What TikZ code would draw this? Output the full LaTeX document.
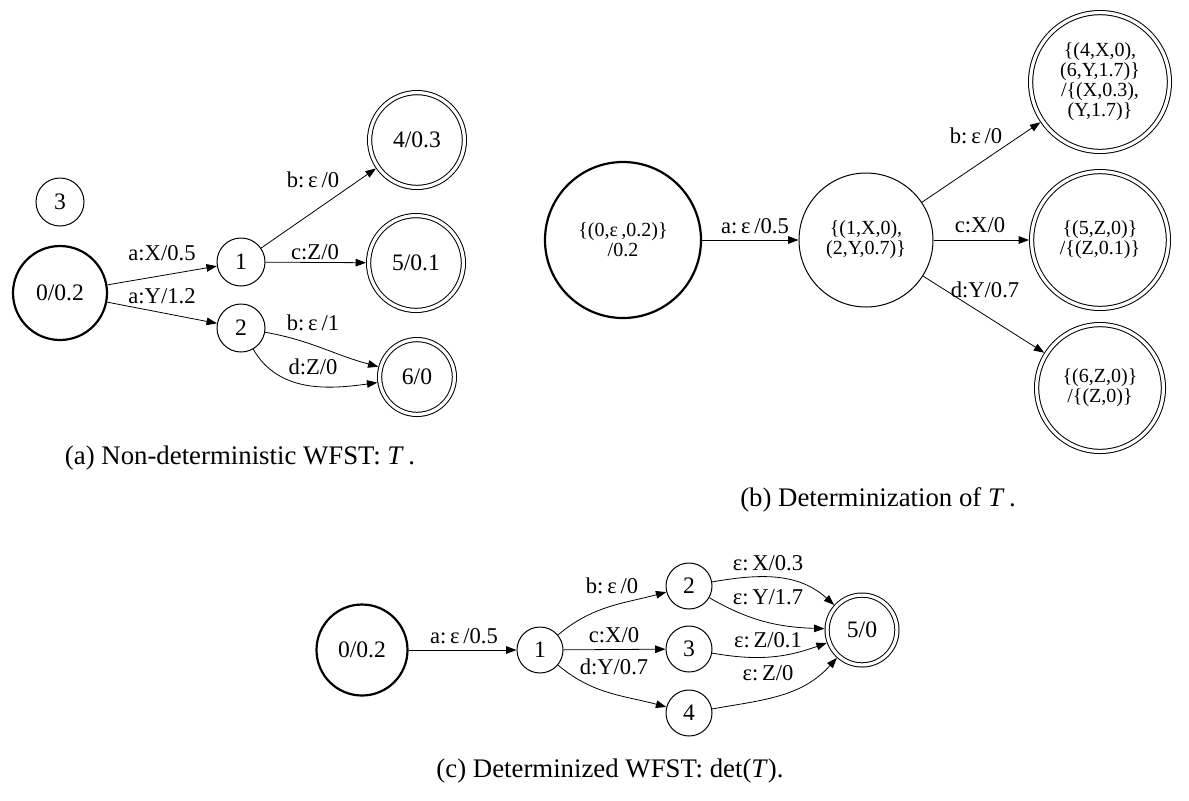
\documentclass[tikz,border=0pt]{standalone}
\usepackage{fontspec}
\setmainfont{Liberation Serif}
\usepackage{tikz}
\usetikzlibrary{arrows.meta}

\begin{document}
\begin{tikzpicture}[x=0.5pt,y=-0.5pt,
    state/.style={circle,draw,line width=0.5pt,inner sep=0pt,font=\fontsize{11.8}{12}\selectfont},
    start/.style={state,line width=1.1pt},
    final/.style={state,double,double distance=1.6pt,outer sep=1.3pt},
    big/.style={align=center,font=\fontsize{10}{10}\selectfont},
    lbl/.style={inner sep=0pt,font=\fontsize{11.3}{12}\selectfont},
    captxt/.style={inner sep=0pt,font=\fontsize{13.4}{15}\selectfont},
    >={Triangle[length=5.2pt,width=3.8pt]}]
    \useasboundingbox (0,0) rectangle (1189,800);
    % (a)
    \node[state,minimum size=24pt] (a3) at (60,202) {3};
    \node[start,minimum size=47pt] (a0) at (60,293) {0/0.2};
    \node[state,minimum size=24pt] (a1) at (241,262) {1};
    \node[state,minimum size=24pt] (a2) at (241,328) {2};
    \node[final,minimum size=47.4pt] (a4) at (417,140) {4/0.3};
    \node[final,minimum size=47.4pt] (a5) at (416,263) {5/0.1};
    \node[final,minimum size=37.4pt] (a6) at (417,377) {6/0};
    \draw[->] (a0) -- (a1);
    \draw[->] (a0) -- (a2);
    \draw[->] (a1) -- (a4);
    \draw[->] (a1) -- (a5);
    \draw[->] (a2) to[out=-10,in=165] (a6);
    \draw[->] (a2) to[out=-60,in=188] (a6);
    \node[lbl] (la01) at (162,253) {a:X/0.5};
    \node[lbl] (la02) at (162,296) {a:Y/1.2};
    \node[lbl] (la14) at (313,180) {b:\,ε\,/0};
    \node[lbl] (la15) at (315,252) {c:Z/0};
    \node[lbl] (la26) at (313,323) {b:\,ε\,/1};
    \node[lbl] (la26d) at (313,367) {d:Z/0};
    \node[captxt] (capa) at (240,458) {(a) Non-deterministic WFST: \textit{T}\,.};
    % (b)
    \node[start,big,minimum size=78pt] (b0) at (623,240) {\{(0,ε\,,0.2)\}\\/0.2};
    \node[state,big,minimum size=67pt] (b1) at (866,240) {\{(1,X,0),\\(2,Y,0.7)\}};
    \node[final,big,minimum size=69.4pt] (b2) at (1100,82) {\{(4,X,0),\\(6,Y,1.7)\}\\/\{(X,0.3),\\(Y,1.7)\}};
    \node[final,big,minimum size=68.4pt] (b3) at (1100,240) {\{(5,Z,0)\}\\/\{(Z,0.1)\}};
    \node[final,big,minimum size=63.4pt] (b4) at (1100,388) {\{(6,Z,0)\}\\/\{(Z,0)\}};
    \draw[->] (b0) -- (b1);
    \draw[->] (b1) -- (b2);
    \draw[->] (b1) -- (b3);
    \draw[->] (b1) -- (b4);
    \node[lbl] (lb01) at (755,226) {a:\,ε\,/0.5};
    \node[lbl] (lb12) at (976,136) {b:\,ε\,/0};
    \node[lbl] (lb13) at (980,225) {c:X/0};
    \node[lbl] (lb14) at (985,290) {d:Y/0.7};
    \node[captxt] (capb) at (878,500) {(b) Determinization of \textit{T}\,.};
    % (c)
    \node[start,minimum size=45.5pt] (c0) at (362,650) {0/0.2};
    \node[state,minimum size=23pt] (c1) at (540,650) {1};
    \node[state,minimum size=23pt] (c2) at (689,586) {2};
    \node[state,minimum size=23pt] (c3) at (689,649) {3};
    \node[state,minimum size=23pt] (c4) at (689,713) {4};
    \node[final,minimum size=34.9pt] (c5) at (862,630) {5/0};
    \draw[->] (c0) -- (c1);
    \draw[->] (c1) to[out=40,in=195] (c2);
    \draw[->] (c1) -- (c3);
    \draw[->] (c1) to[out=-40,in=165] (c4);
    \draw[->] (c2) to[out=10,in=138] (c5);
    \draw[->] (c2) to[out=-30,in=178] (c5);
    \draw[->] (c3) to[out=-10,in=200] (c5);
    \draw[->] (c4) to[out=10,in=228] (c5);
    \node[lbl] (lc01) at (464,636) {a:\,ε\,/0.5};
    \node[lbl] (lc12) at (612,586) {b:\,ε\,/0};
    \node[lbl] (lc13) at (614,635) {c:X/0};
    \node[lbl] (lc14) at (614,667) {d:Y/0.7};
    \node[lbl] (lc25) at (768,563) {ε:\,X/0.3};
    \node[lbl] (lc25b) at (768,597) {ε:\,Y/1.7};
    \node[lbl] (lc35) at (768,640) {ε:\,Z/0.1};
    \node[lbl] (lc45) at (768,673) {ε:\,Z/0};
    \node[captxt] (capc) at (610,771) {(c) Determinized WFST: det(\textit{T}).};
\end{tikzpicture}
\end{document}
